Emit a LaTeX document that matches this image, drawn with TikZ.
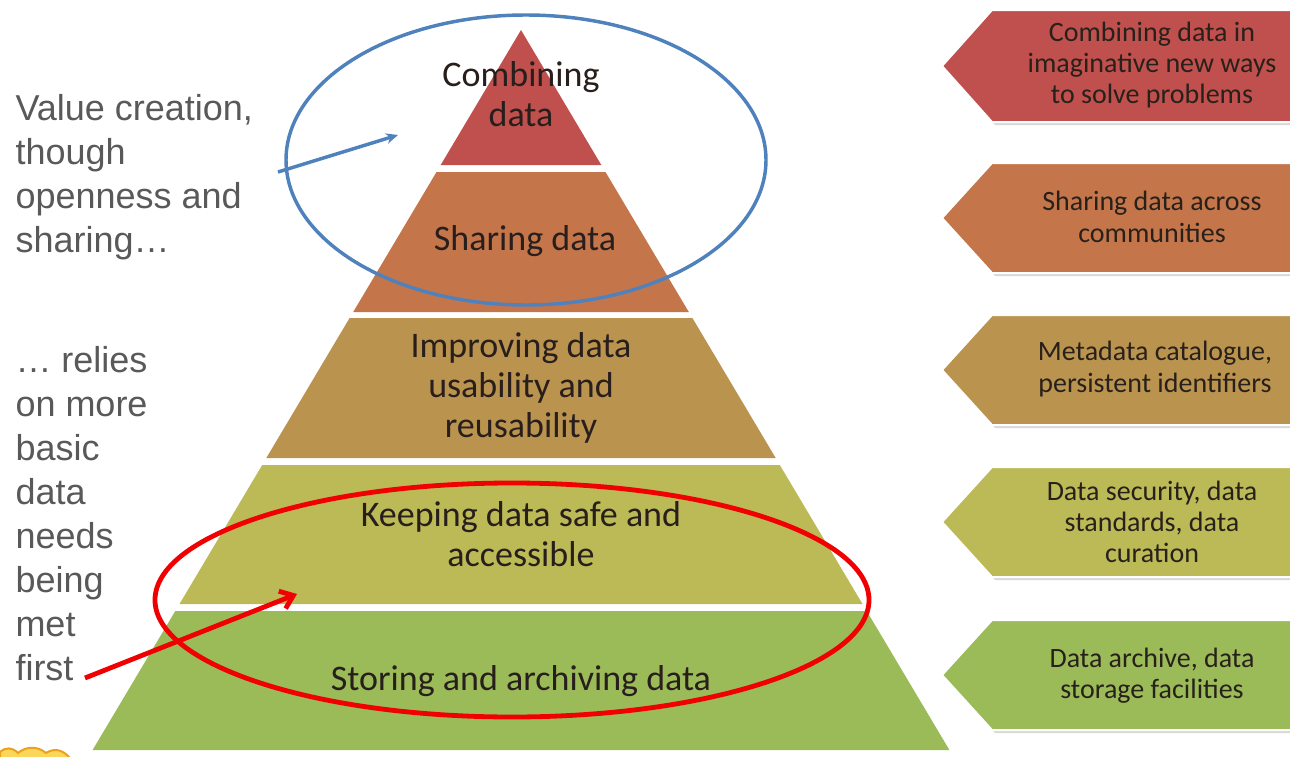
\documentclass[tikz,border=0pt]{standalone}
\usepackage{fontspec}
\setmainfont{Carlito}
\newfontfamily\sidefont{Liberation Sans}
\usetikzlibrary{arrows.meta}

\tikzset{every picture/.style={line width=0.75pt}}
\tikzset{
  layertext/.style={inner sep=0.75pt, align=center, text={rgb,255:red,40;green,30;blue,28}, font=\fontsize{27}{30}\selectfont},
  tag/.style={draw=white, line width=1.5pt},
  tagshadow/.style={draw=none, fill={rgb,255:red,190;green,190;blue,190}, fill opacity=0.6},
  tagtext/.style={inner sep=0.75pt, align=center, text={rgb,255:red,40;green,32;blue,26}, font=\fontsize{21}{23.5}\selectfont},
  sidetext/.style={anchor=north west, inner sep=0pt, align=left, text={rgb,255:red,89;green,89;blue,89}, font=\sidefont\fontsize{27}{33}\selectfont},
}

\begin{document}
\begin{tikzpicture}[x=0.75pt,y=0.75pt,yscale=-1,xscale=1]
\useasboundingbox (0,0) rectangle (1290,757);

%Shape: Triangle (top layer)
\fill [fill={rgb, 255:red, 192; green, 80; blue, 77 }] (521,30) -- (601.3,165) -- (440.7,165) -- cycle ;
%Shape: Trapezoid
\fill [fill={rgb, 255:red, 196; green, 118; blue, 74 }] (436.5,172) -- (605.5,172) -- (688.8,312) -- (353.2,312) -- cycle ;
%Shape: Trapezoid
\fill [fill={rgb, 255:red, 186; green, 148; blue, 78 }] (349.6,318) -- (692.4,318) -- (775.7,458) -- (266.3,458) -- cycle ;
%Shape: Trapezoid
\fill [fill={rgb, 255:red, 188; green, 186; blue, 86 }] (262.2,465) -- (779.8,465) -- (862.5,604) -- (179.5,604) -- cycle ;
%Shape: Trapezoid
\fill [fill={rgb, 255:red, 155; green, 187; blue, 89 }] (175.3,611) -- (866.7,611) -- (949.4,750) -- (92.6,750) -- cycle ;

% Text Node
\draw (521,94) node (combine) [layertext] {Combining\\data};
% Text Node
\draw (525,241) node (share) [layertext] {Sharing data};
% Text Node
\draw (521,388) node (improve) [layertext] {Improving data\\usability and\\reusability};
% Text Node
\draw (521,534) node (keep) [layertext] {Keeping data safe and\\accessible};
% Text Node
\draw (521,681) node (store) [layertext] {Storing and archiving data};

%Shape: Tag shadows
\fill [tagshadow] (945,69) -- (995,13) -- (1290,13) -- (1290,125) -- (995,125) -- cycle ;
\fill [tagshadow] (945,221) -- (995,166) -- (1290,166) -- (1290,276) -- (995,276) -- cycle ;
\fill [tagshadow] (945,373) -- (995,318) -- (1290,318) -- (1290,428) -- (995,428) -- cycle ;
\fill [tagshadow] (945,525) -- (995,470) -- (1290,470) -- (1290,580) -- (995,580) -- cycle ;
\fill [tagshadow] (945,678) -- (995,623) -- (1290,623) -- (1290,733) -- (995,733) -- cycle ;

%Shape: Tag
\draw [tag, fill={rgb, 255:red, 192; green, 80; blue, 77 }] (942,66) -- (992,10) -- (1292,10) -- (1292,122) -- (992,122) -- cycle ;
%Shape: Tag
\draw [tag, fill={rgb, 255:red, 196; green, 118; blue, 74 }] (942,218) -- (992,163) -- (1292,163) -- (1292,273) -- (992,273) -- cycle ;
%Shape: Tag
\draw [tag, fill={rgb, 255:red, 186; green, 148; blue, 78 }] (942,370) -- (992,315) -- (1292,315) -- (1292,425) -- (992,425) -- cycle ;
%Shape: Tag
\draw [tag, fill={rgb, 255:red, 188; green, 186; blue, 86 }] (942,522) -- (992,467) -- (1292,467) -- (1292,577) -- (992,577) -- cycle ;
%Shape: Tag
\draw [tag, fill={rgb, 255:red, 155; green, 187; blue, 89 }] (942,675) -- (992,620) -- (1292,620) -- (1292,730) -- (992,730) -- cycle ;

% Text Node
\draw (1152,65) node (tagcombine) [tagtext] {Combining data in\\imaginative new ways\\to solve problems};
% Text Node
\draw (1152,217) node (tagshare) [tagtext] {Sharing data across\\communities};
% Text Node
\draw (1155,369) node (tagmeta) [tagtext] {Metadata catalogue,\\persistent identifiers};
% Text Node
\draw (1152,522) node (tagsafe) [tagtext] {Data security, data\\standards, data\\curation};
% Text Node
\draw (1152,676) node (tagstore) [tagtext] {Data archive, data\\storage facilities};

% Text Node
\draw (15,94) node (valuetext) [sidetext] {Value creation,\\though\\openness and\\sharing\ldots};
% Text Node
\draw (15,346) node (basictext) [sidetext] {\ldots\ relies\\on more\\basic\\data\\needs\\being\\met\\first};

%Shape: Ellipse
\draw [draw={rgb, 255:red, 79; green, 129; blue, 189 }, line width=2.6] (526,160) ellipse [x radius=240, y radius=145] ;
%Shape: Ellipse
\draw [draw={rgb, 255:red, 240; green, 0; blue, 0 }, line width=3.6] (512,600) ellipse [x radius=357, y radius=117] ;

\coordinate (bluefrom) at (278,172) ;
\coordinate (blueto) at (398,135) ;
\coordinate (redfrom) at (85,678) ;
\coordinate (redto) at (297,594) ;
%Straight Lines
\draw [draw={rgb, 255:red, 79; green, 129; blue, 189 }, line width=2.6, -{Stealth[length=9pt, width=8pt]}] (bluefrom) -- (blueto) ;
%Straight Lines
\draw [draw={rgb, 255:red, 240; green, 0; blue, 0 }, line width=3.6, -{Straight Barb[length=9pt, width=14pt]}] (redfrom) -- (redto) ;

%Shape: Wave (bottom left)
\draw [draw={rgb, 255:red, 235; green, 160; blue, 30 }, fill={rgb, 255:red, 250; green, 215; blue, 90 }, line width=1.5] (0,758) -- (0,752) .. controls (6,747) and (12,747) .. (18,753) .. controls (26,746) and (38,746) .. (46,753) .. controls (54,748) and (62,749) .. (70,758) -- cycle ;

\end{tikzpicture}
\end{document}
